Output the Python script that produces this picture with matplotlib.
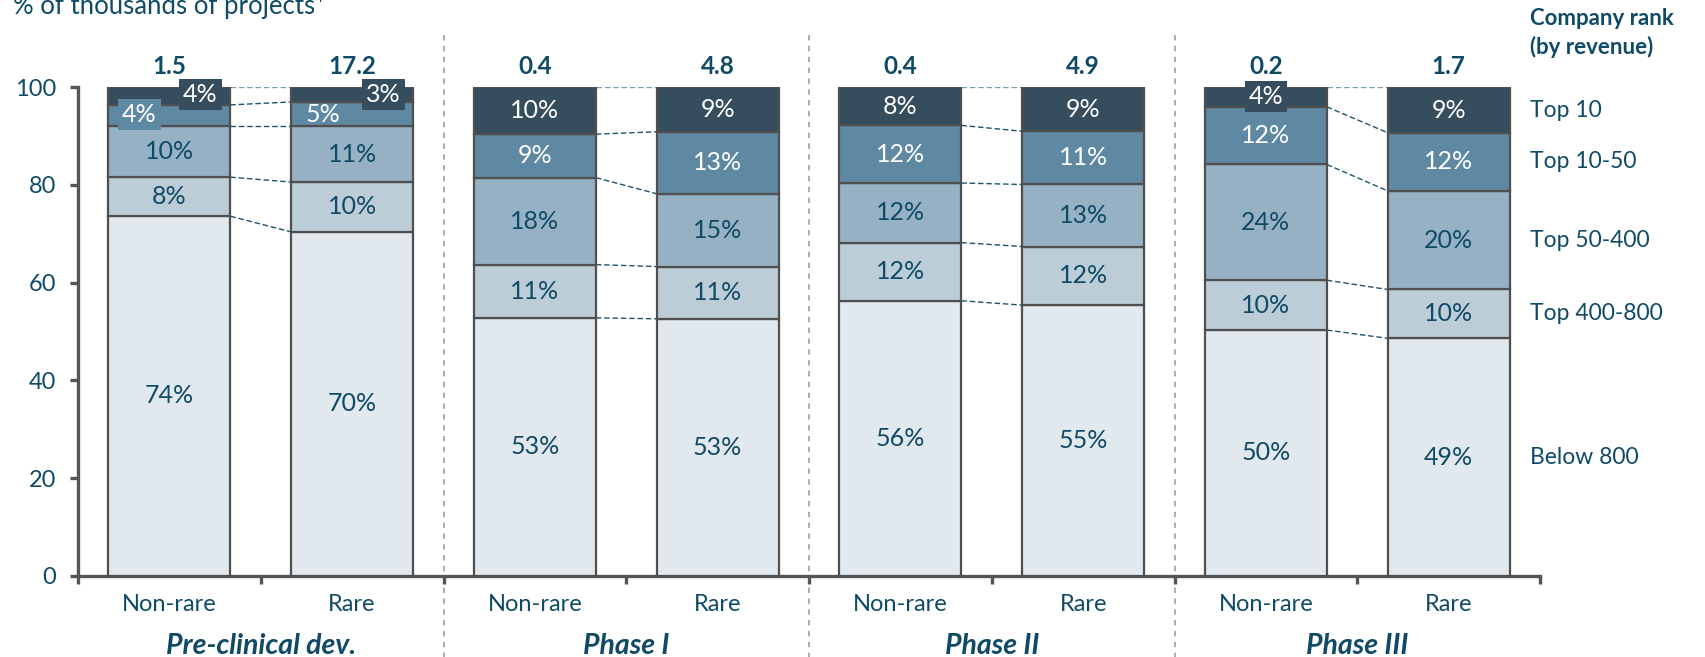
import numpy as np
import matplotlib
matplotlib.use("Agg")
import matplotlib.pyplot as plt

plt.rcParams['font.family'] = ['Lato', 'DejaVu Sans']

# DATA
phases = ["Pre-clinical dev.", "Phase I", "Phase II", "Phase III"]
groups = ["Non-rare", "Rare"]
ranks = ["Below 800", "Top 400-800", "Top 50-400", "Top 10-50", "Top 10"]
totals = [1.5, 17.2, 0.4, 4.8, 0.4, 4.9, 0.2, 1.7]   # thousands of projects

# share of projects per bar (%), bottom to top
below_800 = [73.6, 70.4, 52.8, 52.6, 56.3, 55.4, 50.3, 48.6]
top_400_800 = [8.0, 10.2, 10.9, 10.7, 11.9, 12.0, 10.2, 10.0]
top_50_400 = [10.4, 11.4, 17.8, 14.9, 12.2, 12.7, 23.7, 20.2]
top_10_50 = [4.4, 5.0, 8.9, 12.7, 11.8, 10.9, 11.8, 11.9]
top_10 = [3.6, 3.0, 9.6, 9.1, 7.8, 9.0, 4.0, 9.3]

# STYLE
TEXT = '#0f4a66'
EDGE = '#4f4f4f'
COLORS = ['#e2e9ee', '#bccdd8', '#97b1c4', '#5f88a2', '#354d5d']
LABEL_COLORS = [TEXT, TEXT, TEXT, 'white', 'white']
BAR_W = 0.667
FS_PCT = 18

series = [below_800, top_400_800, top_50_400, top_10_50, top_10]
data = np.array(series)               # shape (5 ranks, 8 bars)
cum = np.vstack([np.zeros(data.shape[1]), np.cumsum(data, axis=0)])
n_bars = data.shape[1]
x = np.arange(n_bars) + 0.5

fig = plt.figure(figsize=(17.06, 6.57), dpi=100)
ax = fig.add_axes([78 / 1706, 81.3 / 657, 1462 / 1706, 488.4 / 657])

# stacked bars
for k in range(len(series)):
    ax.bar(x, data[k], bottom=cum[k], width=BAR_W, color=COLORS[k],
           edgecolor=EDGE, linewidth=1.6, zorder=3)

# labels with a small box where the segment is too thin
special = {
    (0, 4): (0.67, 98.6, True),
    (0, 3): (0.336, 94.5, True),
    (1, 4): (1.672, 98.6, True),
    (1, 3): (1.34, 94.5, False),
    (6, 4): (6.5, 98.1, True),
}
for i in range(n_bars):
    for k in range(len(series)):
        lab = f"{data[k, i]:.0f}%"
        if (i, k) in special:
            tx, ty, boxed = special[(i, k)]
            bbox = dict(boxstyle='square,pad=0.16', fc=COLORS[k], ec='none') if boxed else None
            ax.text(tx, ty, lab, ha='center', va='center', fontsize=FS_PCT,
                    color=LABEL_COLORS[k], bbox=bbox, zorder=6)
        else:
            ax.text(x[i], (cum[k, i] + cum[k + 1, i]) / 2, lab, ha='center',
                    va='center', fontsize=FS_PCT, color=LABEL_COLORS[k], zorder=5)
    ax.text(x[i], 104.3, f"{totals[i]}", ha='center', va='center',
            fontsize=17.5, fontweight='bold', color=TEXT)

# dashed connectors between the two bars of each phase
for p in range(len(phases)):
    i, j = 2 * p, 2 * p + 1
    x0, x1 = x[i] + BAR_W / 2, x[j] - BAR_W / 2
    for k in range(1, len(series) + 1):
        col = '#7d9cb0' if k == len(series) else '#1f5470'
        ax.plot([x0, x1], [cum[k, i], cum[k, j]], color=col, lw=1.0,
                ls=(0, (4, 2)), zorder=2)

# phase separators
for p in range(1, len(phases)):
    ax.plot([2 * p, 2 * p], [-17, 111.8], color='#a6a6a6', lw=1.3,
            ls=(0, (3, 3)), clip_on=False, zorder=1)

# category and phase labels
for i in range(n_bars):
    ax.text(x[i], -5.8, groups[i % 2], ha='center', va='center',
            fontsize=17, color=TEXT)
for p, name in enumerate(phases):
    ax.text(2 * p + 1, -14.4, name, ha='center', va='center', fontsize=20.5,
            fontweight='bold', fontstyle='italic', color=TEXT)

# legend on the right, aligned with the last bar's segments
lx = 7.945
for k, name in enumerate(ranks):
    ax.text(lx, (cum[k, -1] + cum[k + 1, -1]) / 2, name, ha='left',
            va='center', fontsize=16.5, color=TEXT)
ax.text(lx, 114.1, "Company rank", ha='left', va='center', fontsize=16,
        fontweight='bold', color=TEXT)
ax.text(lx, 108.2, "(by revenue)", ha='left', va='center', fontsize=16,
        fontweight='bold', color=TEXT)

fig.text(13 / 1706, 1 - 14 / 657, "% of thousands of projects*", ha='left',
         va='baseline', fontsize=18.5, color=TEXT)

# axes styling
ax.set_xlim(0, n_bars)
ax.set_ylim(0, 100)
for s in ['top', 'right']:
    ax.spines[s].set_visible(False)
for s in ['left', 'bottom']:
    ax.spines[s].set_linewidth(2.4)
    ax.spines[s].set_color('#555555')
ax.set_yticks(range(0, 101, 20))
ax.set_xticks(range(0, n_bars + 1))
ax.set_xticklabels([])
ax.tick_params(axis='both', direction='out', length=6, width=2.4,
               color='#555555')
ax.tick_params(axis='y', labelsize=17, labelcolor=TEXT, pad=10)

fig.savefig("out.png", dpi=100)
